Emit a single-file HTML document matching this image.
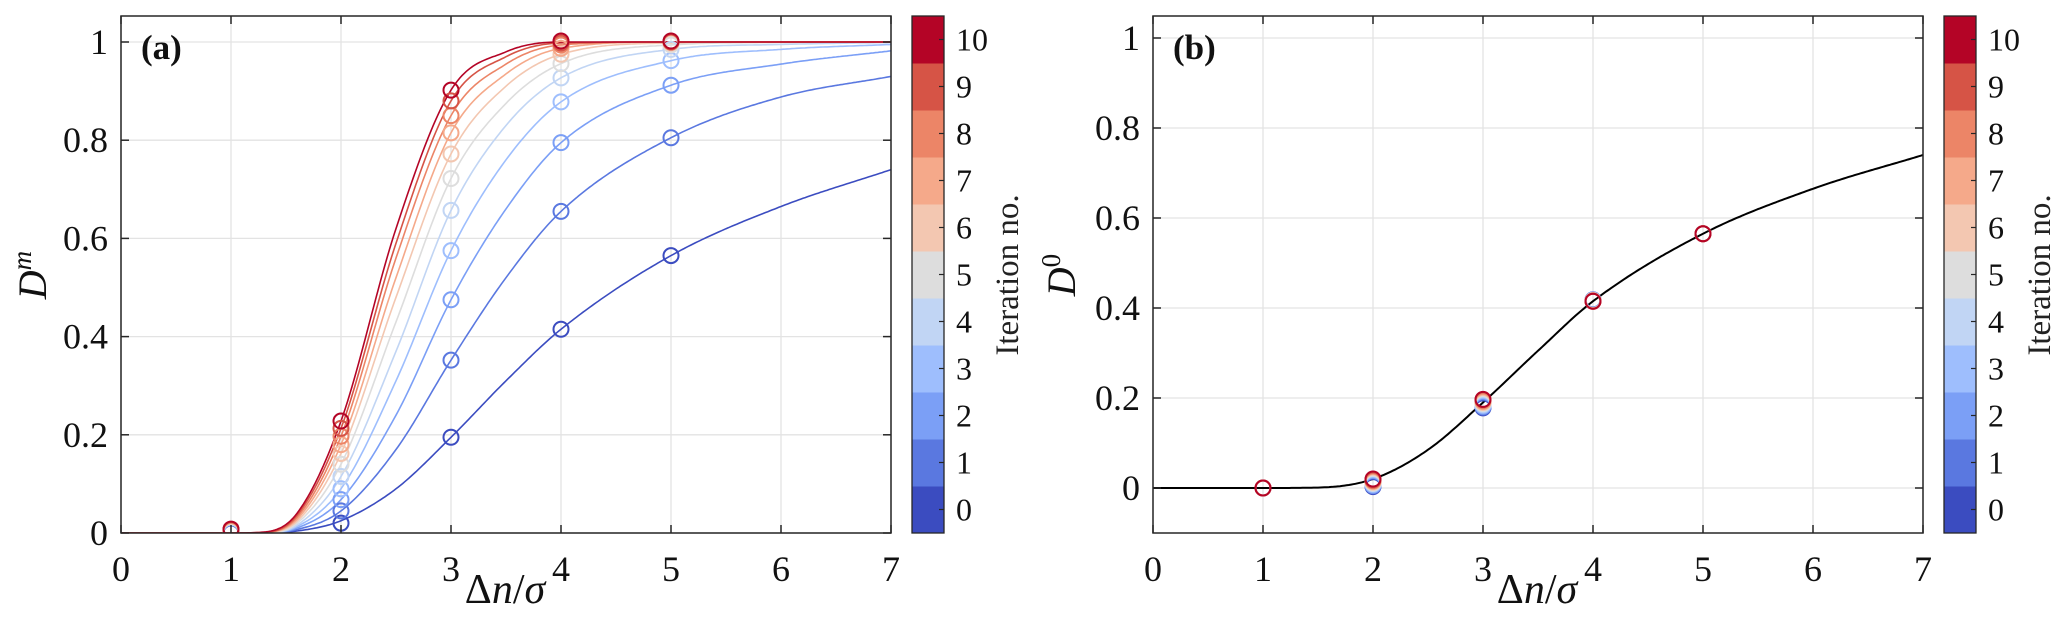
<!DOCTYPE html>
<html><head><meta charset="utf-8"><style>
html,body{margin:0;padding:0;background:#fff;}
svg{display:block;font-family:"Liberation Serif",serif;}
</style></head><body>
<svg id="fig" width="2067" height="620" viewBox="0 0 2067 620" xmlns="http://www.w3.org/2000/svg"></svg>
<script>
// ---- data ----
const xTicks = [0,1,2,3,4,5,6,7];
const yTicksA = [0,0.2,0.4,0.6,0.8,1];
const yTicksB = [0,0.2,0.4,0.6,0.8,1];
const iterLabels = [0,1,2,3,4,5,6,7,8,9,10];
const iterColors = ["#3b4cc0","#5a78e0","#7b9ff6","#9ebefd","#c1d5f4","#dddddd","#f3c7b1","#f5a98a","#ec8567","#d65446","#b40426"];
const pointX = [1,2,3,4,5];
const ptsA = [
 [0.000,0.020,0.195,0.415,0.565],
 [0.001,0.045,0.352,0.655,0.805],
 [0.001,0.068,0.475,0.795,0.912],
 [0.002,0.090,0.575,0.878,0.962],
 [0.002,0.115,0.657,0.927,0.985],
 [0.003,0.140,0.722,0.956,0.994],
 [0.004,0.162,0.772,0.975,0.998],
 [0.005,0.180,0.815,0.987,1.000],
 [0.006,0.197,0.850,0.994,1.000],
 [0.007,0.213,0.880,0.998,1.000],
 [0.008,0.228,0.902,1.002,1.002]
];
const curveX = [1,1.3,1.6,2,2.5,3,3.5,4,5,6,7];
const curvesA = [
 [0,0,0.004,0.025,0.09,0.195,0.31,0.415,0.565,0.665,0.74],
 [0,0,0.007,0.045,0.17,0.352,0.52,0.655,0.805,0.888,0.93],
 [0,0,0.010,0.068,0.24,0.475,0.66,0.795,0.912,0.955,0.982],
 [0,0,0.013,0.090,0.31,0.575,0.76,0.878,0.962,0.985,0.995],
 [0,0,0.016,0.115,0.37,0.657,0.83,0.927,0.985,0.995,0.999],
 [0,0,0.020,0.140,0.43,0.722,0.875,0.956,0.994,0.999,1],
 [0,0.001,0.024,0.162,0.48,0.772,0.91,0.975,0.998,1,1],
 [0,0.001,0.028,0.180,0.52,0.815,0.935,0.987,1,1,1],
 [0,0.001,0.032,0.197,0.56,0.850,0.955,0.994,1,1,1],
 [0,0.001,0.036,0.213,0.59,0.880,0.97,0.998,1,1,1],
 [0,0.002,0.040,0.228,0.62,0.902,0.98,1,1,1,1]
];
const ptsB = [
 [0,0.003,0.178,0.418,0.565],
 [0,0.005,0.180,0.418,0.565],
 [0,0.006,0.182,0.417,0.565],
 [0,0.008,0.184,0.417,0.565],
 [0,0.010,0.186,0.417,0.565],
 [0,0.011,0.188,0.416,0.565],
 [0,0.013,0.190,0.416,0.565],
 [0,0.015,0.192,0.416,0.565],
 [0,0.016,0.194,0.415,0.565],
 [0,0.018,0.196,0.415,0.565],
 [0,0.020,0.197,0.415,0.565]
];
const curveBX = [0,1,1.5,2,2.5,3,3.5,4,5,6,7];
const curveBY = [0,0,0.001,0.02,0.085,0.19,0.305,0.415,0.565,0.665,0.74];

// ---- helpers ----
const NS="http://www.w3.org/2000/svg";
const svg=document.getElementById('fig');
function mk(tag,attrs,parent){const e=document.createElementNS(NS,tag);for(const k in attrs)e.setAttribute(k,attrs[k]);(parent||svg).appendChild(e);return e;}
function monotone(xs,ys){
 const n=xs.length,d=[],m=new Array(n);
 for(let i=0;i<n-1;i++)d.push((ys[i+1]-ys[i])/(xs[i+1]-xs[i]));
 m[0]=d[0];m[n-1]=d[n-2];
 for(let i=1;i<n-1;i++){m[i]=(d[i-1]*d[i]<=0)?0:(d[i-1]+d[i])/2;}
 for(let i=0;i<n-1;i++){if(d[i]===0){m[i]=0;m[i+1]=0;continue;}const a=m[i]/d[i],b=m[i+1]/d[i],s=a*a+b*b;if(s>9){const t=3/Math.sqrt(s);m[i]=t*a*d[i];m[i+1]=t*b*d[i];}}
 return function(x){let i=0;while(i<n-2&&x>xs[i+1])i++;const h=xs[i+1]-xs[i],t=(x-xs[i])/h;
  const h00=2*t*t*t-3*t*t+1,h10=t*t*t-2*t*t+t,h01=-2*t*t*t+3*t*t,h11=t*t*t-t*t;
  return h00*ys[i]+h10*h*m[i]+h01*ys[i+1]+h11*h*m[i+1];};
}

function panel(cfg){
 const L=cfg.left,R=cfg.left+770,T=16,B=533;
 const xs=v=>L+v*110;
 const ys=v=>cfg.y0-v*cfg.yu;
 const g=mk('g',{});
 
 
 xTicks.forEach(t=>{const l=mk('line',{x1:xs(t),x2:xs(t),y1:T,y2:B,stroke:'#e3e3e3','stroke-width':1.3},g);});
 cfg.yTicks.forEach(t=>{const l=mk('line',{x1:L,x2:R,y1:ys(t),y2:ys(t),stroke:'#e3e3e3','stroke-width':1.3},g);});
 const clip=mk('clipPath',{id:cfg.name+'-clip'},g);mk('rect',{x:L,y:T,width:770,height:B-T},clip);
 const plot=mk('g',{'clip-path':'url(#'+cfg.name+'-clip)'},g);
 cfg.draw(plot,xs,ys);
 const box=mk('rect',{x:L,y:T,width:770,height:B-T,fill:'none',stroke:'#262626','stroke-width':1.5},g);
 
 xTicks.forEach(t=>{mk('line',{x1:xs(t),x2:xs(t),y1:B,y2:B-8,stroke:'#262626','stroke-width':1.5},g);mk('line',{x1:xs(t),x2:xs(t),y1:T,y2:T+8,stroke:'#262626','stroke-width':1.5},g);
  const tx=mk('text',{x:xs(t),y:581,'font-size':36,'text-anchor':'middle',fill:'#111'},g);tx.textContent=t;
  });
 cfg.yTicks.forEach(t=>{mk('line',{x1:L,x2:L+8,y1:ys(t),y2:ys(t),stroke:'#262626','stroke-width':1.5},g);mk('line',{x1:R,x2:R-8,y1:ys(t),y2:ys(t),stroke:'#262626','stroke-width':1.5},g);
  const tx=mk('text',{x:L-13,y:ys(t)+12,'font-size':36,'text-anchor':'end',fill:'#111'},g);tx.textContent=String(t);
  });
 const lab=mk('text',{x:L+20,y:59,'font-size':35,'font-weight':'bold',fill:'#111'},g);lab.textContent=cfg.tag;
 
 const xl=mk('text',{x:L+384,y:603,'font-size':42,'text-anchor':'middle',fill:'#111'},g);
 xl.innerHTML='Δ<tspan font-style="italic">n</tspan>/<tspan font-style="italic">σ</tspan>';
 
 const yl=mk('text',{x:0,y:0,'font-size':40,'text-anchor':'middle',fill:'#111',transform:'translate('+cfg.ylx+',275) rotate(-90)'},g);
 yl.innerHTML='<tspan font-style="italic">D</tspan><tspan font-size="27" dy="-15" font-style="'+cfg.supStyle+'">'+cfg.sup+'</tspan>';
 
 const cx=R+21,cw=32,bh=(B-T)/11;
 const cb=mk('g',{},g);
 iterLabels.forEach((lv,i)=>{
  const r=mk('rect',{x:cx,y:B-(i+1)*bh,width:cw,height:bh+0.5,fill:iterColors[i]},cb);
  
  mk('line',{x1:cx+cw-5,x2:cx+cw,y1:B-(i+0.5)*bh,y2:B-(i+0.5)*bh,stroke:'#262626','stroke-width':1.2},cb);
  const t=mk('text',{x:cx+cw+12,y:B-(i+0.5)*bh+11,'font-size':32,fill:'#111'},cb);t.textContent=lv;
  
 });
 mk('rect',{x:cx,y:T,width:cw,height:B-T,fill:'none',stroke:'#262626','stroke-width':1.3},cb);
 const cl=mk('text',{x:0,y:0,'font-size':33,'text-anchor':'middle',fill:'#222',transform:'translate('+(cx+106)+',275) rotate(-90)'},cb);
 cl.textContent='Iteration no.';
}

panel({name:'panel-a',left:121,y0:533,yu:491,yTicks:yTicksA,tag:'(a)',sup:'m',supStyle:'italic',ylx:46,
 draw:(p,xs,ys)=>{
  curvesA.forEach((cy,i)=>{const f=monotone(curveX,cy);let d='';
   for(let x=curveX[0];x<=7.0001;x+=0.02){d+=(d?'L':'M')+xs(x).toFixed(1)+','+ys(Math.min(f(x),1)).toFixed(1);}
   const pa=mk('path',{d:'M'+xs(0)+','+ys(0)+'L'+d.slice(1),fill:'none',stroke:iterColors[i],'stroke-width':1.6},p);
   });
  ptsA.forEach((row,i)=>row.forEach((v,j)=>{const c=mk('circle',{cx:xs(pointX[j]),cy:ys(v),r:7.5,fill:'none',stroke:iterColors[i],'stroke-width':2},p);
   }));
 }});
panel({name:'panel-b',left:1153,y0:488,yu:450,yTicks:yTicksB,tag:'(b)',sup:'0',supStyle:'normal',ylx:1075,
 draw:(p,xs,ys)=>{
  const f=monotone(curveBX,curveBY);let d='';
  for(let x=0;x<=7.0001;x+=0.02){d+=(d?'L':'M')+xs(x).toFixed(1)+','+ys(f(x)).toFixed(1);}
  const pa=mk('path',{d:d,fill:'none',stroke:'#000','stroke-width':2},p);
  
  ptsB.forEach((row,i)=>row.forEach((v,j)=>{const c=mk('circle',{cx:xs(pointX[j]),cy:ys(v),r:7.5,fill:'none',stroke:iterColors[i],'stroke-width':2},p);
   }));
 }});
</script>
</body></html>
